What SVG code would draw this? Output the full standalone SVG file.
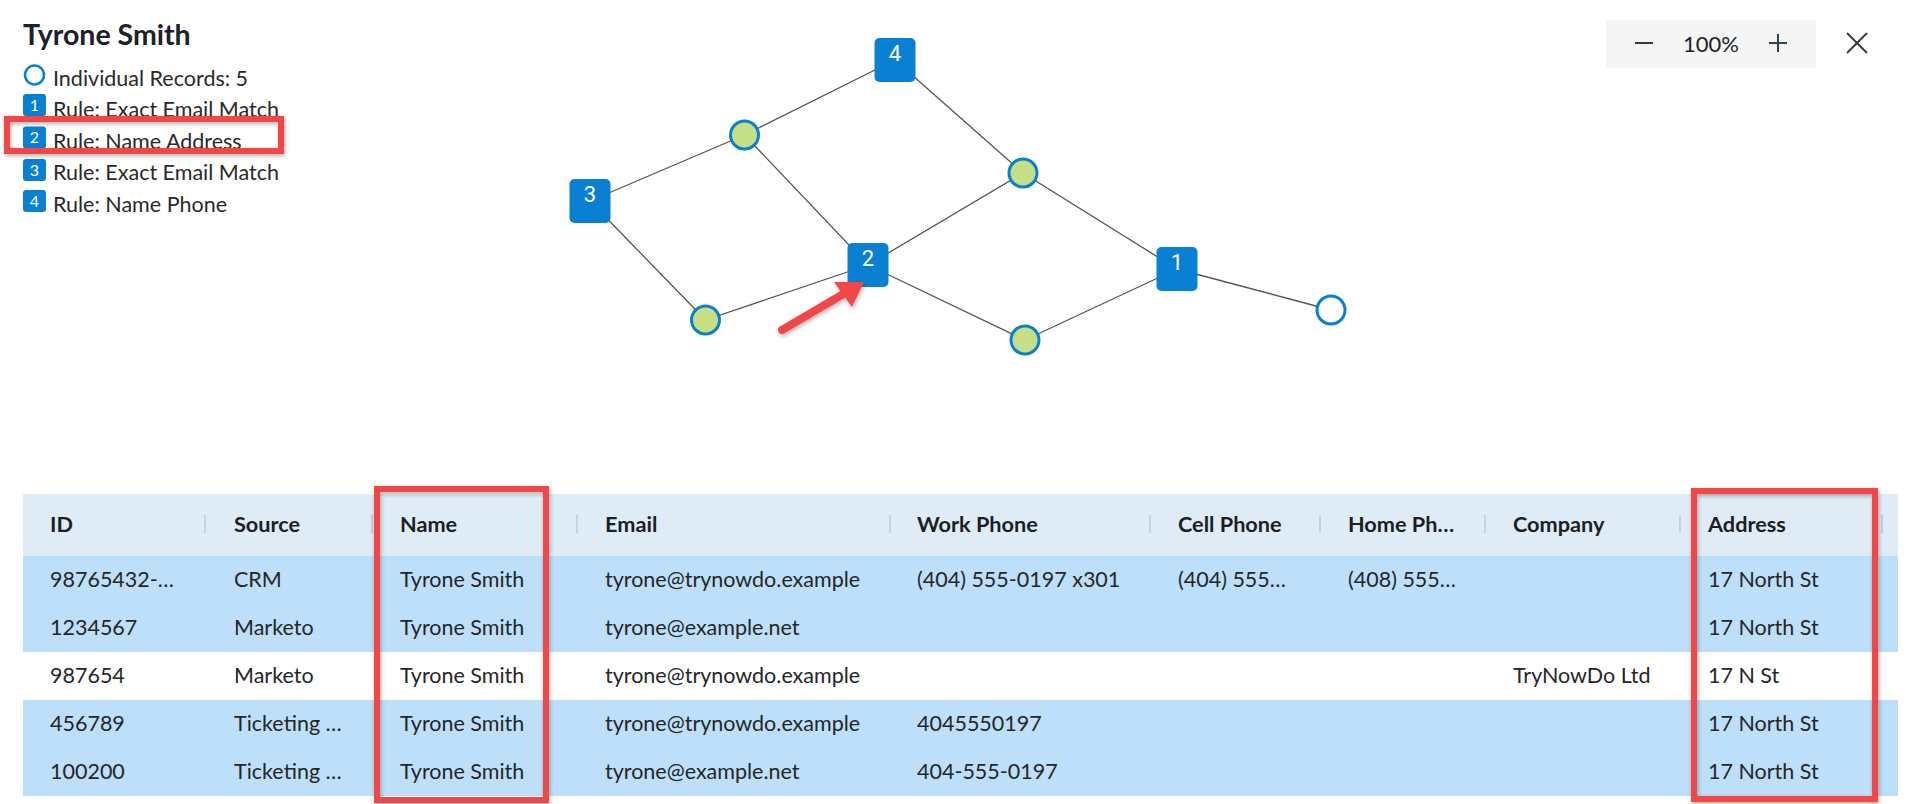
<svg xmlns="http://www.w3.org/2000/svg" width="1920" height="804" viewBox="0 0 1920 804">
<style>
text{font-family:Lato,"Nunito Sans","Open Sans",sans-serif;fill:#222}
.title{font-size:28.5px;font-weight:700;fill:#1d2228}
.leg{font-size:21.5px;fill:#2a2a2a}
.legnum{font-size:16px;fill:#fff;text-anchor:middle}
.hd{font-size:21.7px;font-weight:700;fill:#1b1f24}
.cell{font-size:21.5px;fill:#262626}
.sq{fill:#0A80D2}
.gnum{font-family:Roboto,"Open Sans",sans-serif;font-size:22px;fill:#fff;text-anchor:middle}
.rec{fill:#C5DF86;stroke:#0A80D2;stroke-width:3}
.recw{fill:#fff;stroke:#0A80D2;stroke-width:3}
.edge{stroke:#555;stroke-width:1.3;fill:none}
.sep{stroke:#C6D3DE;stroke-width:2}
.hl{fill:none;stroke:#F24747;stroke-width:6}
.ctl{stroke:#3a3a3a;stroke-width:2;fill:none}
</style>
<defs>
<filter id="sh" x="-10%" y="-10%" width="130%" height="130%">
<feDropShadow dx="1" dy="2" stdDeviation="2" flood-color="#000" flood-opacity="0.3"/>
</filter>
</defs>
<rect width="1920" height="804" fill="#fff"/>

<g id="legend">
<text class="title" x="23" y="45">Tyrone Smith</text>
<circle cx="34.5" cy="75" r="9.5" fill="none" stroke="#0A80D2" stroke-width="2.5"/>
<text class="leg" x="53" y="86">Individual Records: 5</text>
<rect class="sq" x="23" y="94" width="23" height="22" rx="3"/>
<text class="legnum" x="34.5" y="111">1</text>
<text class="leg" x="53" y="117">Rule: Exact Email Match</text>
<rect class="sq" x="23" y="126.5" width="23" height="22" rx="3"/>
<text class="legnum" x="34.5" y="143">2</text>
<text class="leg" x="53" y="148.5">Rule: Name Address</text>
<rect class="sq" x="23" y="159" width="23" height="22" rx="3"/>
<text class="legnum" x="34.5" y="175.5">3</text>
<text class="leg" x="53" y="180">Rule: Exact Email Match</text>
<rect class="sq" x="23" y="190" width="23" height="22" rx="3"/>
<text class="legnum" x="34.5" y="206.5">4</text>
<text class="leg" x="53" y="211.5">Rule: Name Phone</text>
</g>

<g id="controls">
<rect x="1606" y="20" width="210" height="48" fill="#F5F5F5"/>
<line class="ctl" x1="1635" y1="43" x2="1653" y2="43"/>
<text x="1711" y="51.5" font-size="22" fill="#333" text-anchor="middle">100%</text>
<line x1="1769" y1="43" x2="1787" y2="43" stroke="#2C4558" stroke-width="2"/>
<line x1="1778" y1="34" x2="1778" y2="52" stroke="#2C4558" stroke-width="2"/>
<line class="ctl" x1="1847" y1="33" x2="1867" y2="53"/>
<line class="ctl" x1="1867" y1="33" x2="1847" y2="53"/>
</g>

<g id="connectors">
<line class="edge" x1="895" y1="60" x2="744.5" y2="135"/>
<line class="edge" x1="895" y1="60" x2="1023" y2="173"/>
<line class="edge" x1="590" y1="201" x2="744.5" y2="135"/>
<line class="edge" x1="590" y1="201" x2="705.5" y2="320"/>
<line class="edge" x1="744.5" y1="135" x2="868" y2="265"/>
<line class="edge" x1="1023" y1="173" x2="868" y2="265"/>
<line class="edge" x1="1023" y1="173" x2="1177" y2="269"/>
<line class="edge" x1="868" y1="265" x2="705.5" y2="320"/>
<line class="edge" x1="868" y1="265" x2="1025" y2="340"/>
<line class="edge" x1="1025" y1="340" x2="1177" y2="269"/>
<line class="edge" x1="1177" y1="269" x2="1331" y2="310"/>
</g>

<g id="node-4"><rect class="sq" x="874.5" y="38" width="41" height="44" rx="5"/><text class="gnum" x="895" y="61">4</text></g>
<g id="node-3"><rect class="sq" x="569.5" y="179" width="41" height="44" rx="5"/><text class="gnum" x="590" y="202">3</text></g>
<g id="node-2"><rect class="sq" x="847.5" y="243" width="41" height="44" rx="5"/><text class="gnum" x="868" y="266">2</text></g>
<g id="node-1"><rect class="sq" x="1156.5" y="247" width="41" height="44" rx="5"/><text class="gnum" x="1177" y="270">1</text></g>
<g id="rec-a"><circle class="rec" cx="744.5" cy="135" r="14"/></g>
<g id="rec-b"><circle class="rec" cx="1023" cy="173" r="14"/></g>
<g id="rec-c"><circle class="rec" cx="705.5" cy="320" r="14"/></g>
<g id="rec-d"><circle class="rec" cx="1025" cy="340" r="14"/></g>
<g id="rec-e"><circle class="recw" cx="1331" cy="310" r="14"/></g>

<g id="pointer" filter="url(#sh)">
<line x1="782" y1="330" x2="845" y2="293" stroke="#F24747" stroke-width="8" stroke-linecap="round"/>
<polygon points="864,282 834,282 852,307" fill="#F24747"/>
</g>

<g id="table">
<rect x="23" y="494" width="1875" height="62" fill="#DFEBF5"/>
<rect x="23" y="556" width="1875" height="96" fill="#BDDFF9"/>
<rect x="23" y="652" width="1875" height="48" fill="#fff"/>
<rect x="23" y="700" width="1875" height="96" fill="#BDDFF9"/>
<g>
<line class="sep" x1="205" y1="515" x2="205" y2="533"/>
<line class="sep" x1="372" y1="515" x2="372" y2="533"/>
<line class="sep" x1="577" y1="515" x2="577" y2="533"/>
<line class="sep" x1="890" y1="515" x2="890" y2="533"/>
<line class="sep" x1="1150" y1="515" x2="1150" y2="533"/>
<line class="sep" x1="1320" y1="515" x2="1320" y2="533"/>
<line class="sep" x1="1485" y1="515" x2="1485" y2="533"/>
<line class="sep" x1="1680" y1="515" x2="1680" y2="533"/>
<line class="sep" x1="1882" y1="515" x2="1882" y2="533"/>
</g>
<g>
<text class="hd" x="50" y="532">ID</text>
<text class="hd" x="234" y="532">Source</text>
<text class="hd" x="400" y="532">Name</text>
<text class="hd" x="605" y="532">Email</text>
<text class="hd" x="917" y="532">Work Phone</text>
<text class="hd" x="1178" y="532">Cell Phone</text>
<text class="hd" x="1348" y="532">Home Ph…</text>
<text class="hd" x="1513" y="532">Company</text>
<text class="hd" x="1708" y="532">Address</text>
</g>
<g>
<text class="cell" x="50" y="587">98765432-…</text>
<text class="cell" x="234" y="587">CRM</text>
<text class="cell" x="400" y="587">Tyrone Smith</text>
<text class="cell" x="605" y="587">tyrone@trynowdo.example</text>
<text class="cell" x="917" y="587">(404) 555-0197 x301</text>
<text class="cell" x="1178" y="587">(404) 555…</text>
<text class="cell" x="1348" y="587">(408) 555…</text>
<text class="cell" x="1708" y="587">17 North St</text>

<text class="cell" x="50" y="635">1234567</text>
<text class="cell" x="234" y="635">Marketo</text>
<text class="cell" x="400" y="635">Tyrone Smith</text>
<text class="cell" x="605" y="635">tyrone@example.net</text>
<text class="cell" x="1708" y="635">17 North St</text>

<text class="cell" x="50" y="683">987654</text>
<text class="cell" x="234" y="683">Marketo</text>
<text class="cell" x="400" y="683">Tyrone Smith</text>
<text class="cell" x="605" y="683">tyrone@trynowdo.example</text>
<text class="cell" x="1513" y="683">TryNowDo Ltd</text>
<text class="cell" x="1708" y="683">17 N St</text>

<text class="cell" x="50" y="731">456789</text>
<text class="cell" x="234" y="731">Ticketing …</text>
<text class="cell" x="400" y="731">Tyrone Smith</text>
<text class="cell" x="605" y="731">tyrone@trynowdo.example</text>
<text class="cell" x="917" y="731">4045550197</text>
<text class="cell" x="1708" y="731">17 North St</text>

<text class="cell" x="50" y="779">100200</text>
<text class="cell" x="234" y="779">Ticketing …</text>
<text class="cell" x="400" y="779">Tyrone Smith</text>
<text class="cell" x="605" y="779">tyrone@example.net</text>
<text class="cell" x="917" y="779">404-555-0197</text>
<text class="cell" x="1708" y="779">17 North St</text>
</g>
</g>

<g id="highlights" filter="url(#sh)">
<rect class="hl" x="7" y="119" width="274" height="32"/>
<rect class="hl" x="377" y="489" width="169" height="311"/>
<rect class="hl" x="1694" y="491" width="181" height="308"/>
</g>
</svg>
